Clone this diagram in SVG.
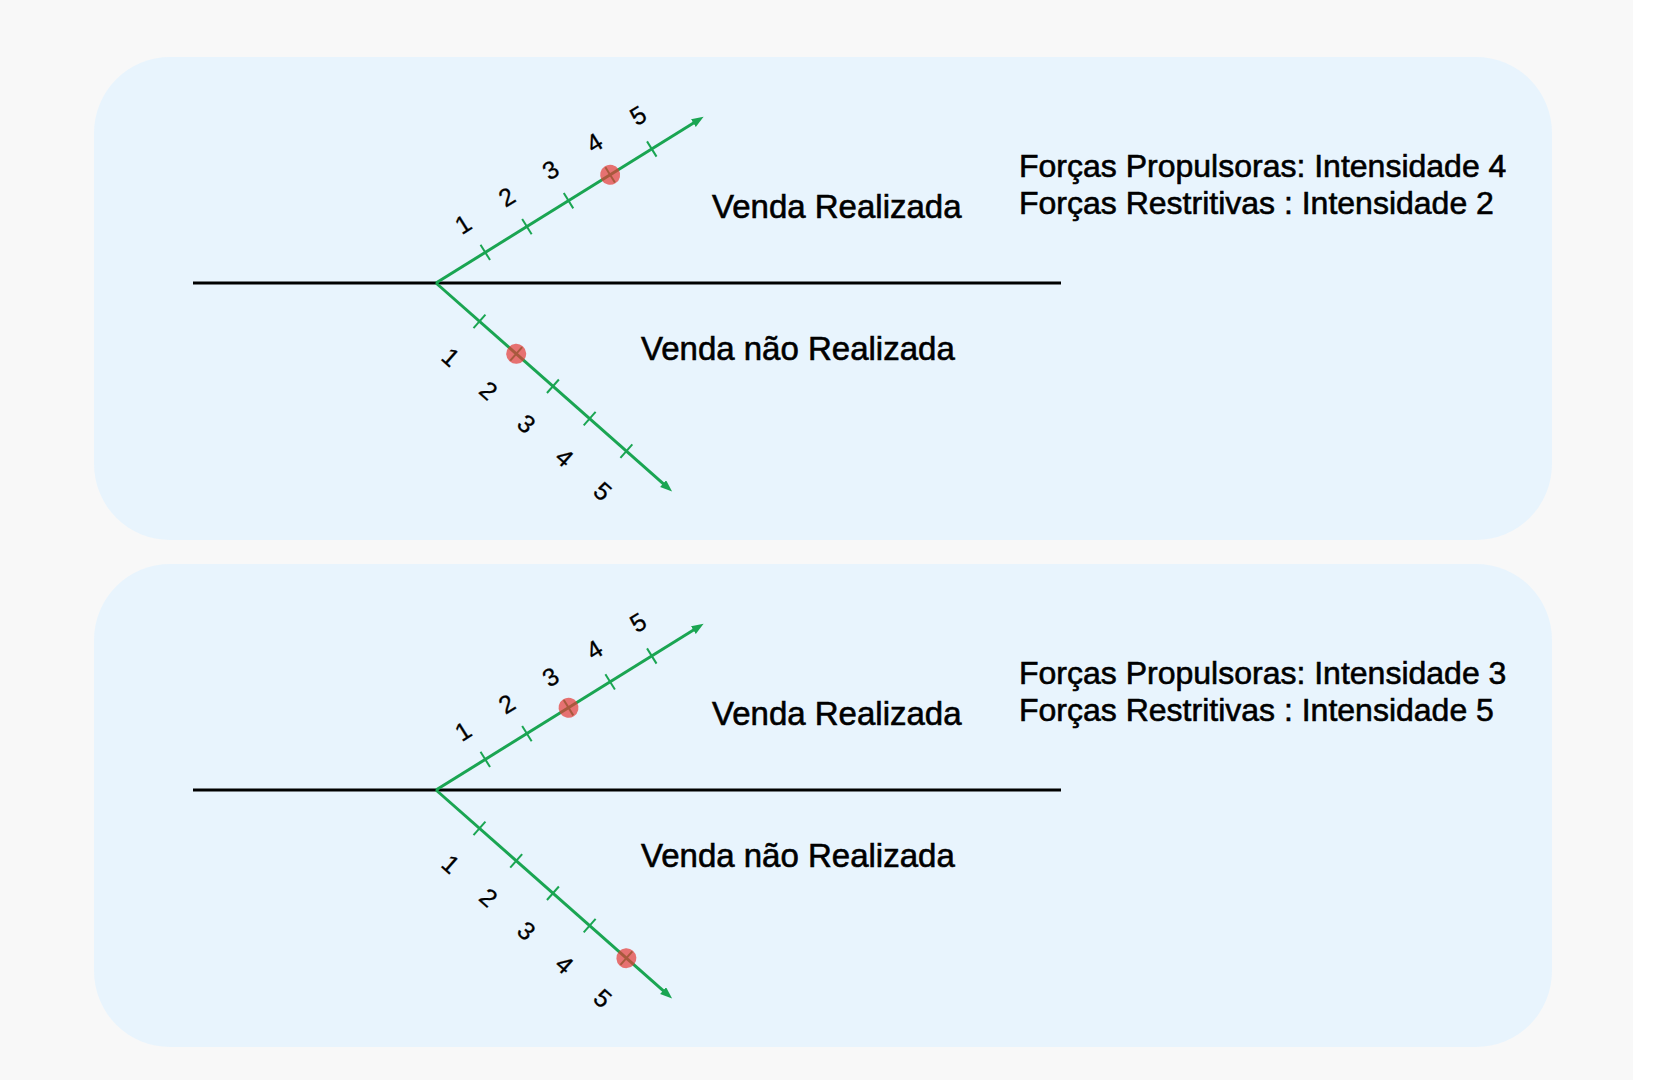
<svg xmlns="http://www.w3.org/2000/svg" width="1680" height="1080" viewBox="0 0 1680 1080">
  <defs>
    <style>
      .panel { fill: #e8f4fd; }
      .base { stroke: #000000; stroke-width: 3; fill: none; }
      .axis { stroke: #1aa552; stroke-width: 3; fill: none; }
      .tick { stroke: #1aa552; stroke-width: 2; }
      .dot { fill: #e53935; fill-opacity: 0.7; }
      .lbl { font-family: "Liberation Sans", Arial, sans-serif; font-size: 33px; fill: #000; stroke: #000; stroke-width: 0.6px; }
      .force { font-family: "Liberation Sans", Arial, sans-serif; font-size: 32px; fill: #000; stroke: #000; stroke-width: 0.6px; }
      .num { font-family: "Liberation Sans", Arial, sans-serif; font-size: 25px; fill: #000; text-anchor: middle; stroke: #000; stroke-width: 0.3px; }
    </style>
    <marker id="arrow" markerUnits="userSpaceOnUse" markerWidth="14" markerHeight="10" refX="2" refY="4.5" orient="auto">
      <path d="M0,0 L12,4.5 L0,9 Z" fill="#1aa552"/>
    </marker>
    <g id="ticks">
      <line class="tick" x1="58" y1="-9" x2="58" y2="9"/>
      <line class="tick" x1="107" y1="-9" x2="107" y2="9"/>
      <line class="tick" x1="156" y1="-9" x2="156" y2="9"/>
      <line class="tick" x1="205" y1="-9" x2="205" y2="9"/>
      <line class="tick" x1="254" y1="-9" x2="254" y2="9"/>
    </g>
  </defs>
  <rect x="0" y="0" width="1680" height="1080" fill="#ffffff"/>
  <rect x="0" y="0" width="1633" height="1080" fill="#f8f8f8"/>

  <!-- Panel 1 -->
  <g id="panel1">
    <rect class="panel" x="94" y="57" width="1458" height="483" rx="76" ry="76"/>
    <g id="p1-connectors">
      <line class="base" x1="193" y1="283" x2="1061" y2="283"/>
      <g transform="translate(436,283) rotate(-31.84)">
        <line class="axis" x1="0" y1="0" x2="305" y2="0" marker-end="url(#arrow)"/>
        <use href="#ticks"/>
        <circle class="dot" cx="205" cy="0" r="10"/>
        <text class="num" x="54" y="-27">1</text>
        <text class="num" x="105.5" y="-27">2</text>
        <text class="num" x="157" y="-27">3</text>
        <text class="num" x="208.5" y="-27">4</text>
        <text class="num" x="260" y="-27">5</text>
      </g>
      <g transform="translate(436,283) rotate(41.45)">
        <line class="axis" x1="0" y1="0" x2="305" y2="0" marker-end="url(#arrow)"/>
        <use href="#ticks"/>
        <circle class="dot" cx="107" cy="0" r="10"/>
        <text class="num" x="60" y="54.5">1</text>
        <text class="num" x="110.5" y="54.5">2</text>
        <text class="num" x="161" y="54.5">3</text>
        <text class="num" x="212" y="54.5">4</text>
        <text class="num" x="263" y="54.5">5</text>
      </g>
    </g>
    <g id="p1-labels">
      <text class="lbl" x="712" y="218">Venda Realizada</text>
      <text class="lbl" x="641" y="360">Venda não Realizada</text>
      <text class="force" x="1019" y="177">Forças Propulsoras: Intensidade 4</text>
      <text class="force" x="1019" y="214">Forças Restritivas : Intensidade 2</text>
    </g>
  </g>

  <!-- Panel 2 -->
  <g id="panel2" transform="translate(0,507)">
    <rect class="panel" x="94" y="57" width="1458" height="483" rx="76" ry="76"/>
    <g id="p2-connectors">
      <line class="base" x1="193" y1="283" x2="1061" y2="283"/>
      <g transform="translate(436,283) rotate(-31.84)">
        <line class="axis" x1="0" y1="0" x2="305" y2="0" marker-end="url(#arrow)"/>
        <use href="#ticks"/>
        <circle class="dot" cx="156" cy="0" r="10"/>
        <text class="num" x="54" y="-27">1</text>
        <text class="num" x="105.5" y="-27">2</text>
        <text class="num" x="157" y="-27">3</text>
        <text class="num" x="208.5" y="-27">4</text>
        <text class="num" x="260" y="-27">5</text>
      </g>
      <g transform="translate(436,283) rotate(41.45)">
        <line class="axis" x1="0" y1="0" x2="305" y2="0" marker-end="url(#arrow)"/>
        <use href="#ticks"/>
        <circle class="dot" cx="254" cy="0" r="10"/>
        <text class="num" x="60" y="54.5">1</text>
        <text class="num" x="110.5" y="54.5">2</text>
        <text class="num" x="161" y="54.5">3</text>
        <text class="num" x="212" y="54.5">4</text>
        <text class="num" x="263" y="54.5">5</text>
      </g>
    </g>
    <g id="p2-labels">
      <text class="lbl" x="712" y="218">Venda Realizada</text>
      <text class="lbl" x="641" y="360">Venda não Realizada</text>
      <text class="force" x="1019" y="177">Forças Propulsoras: Intensidade 3</text>
      <text class="force" x="1019" y="214">Forças Restritivas : Intensidade 5</text>
    </g>
  </g>
</svg>
